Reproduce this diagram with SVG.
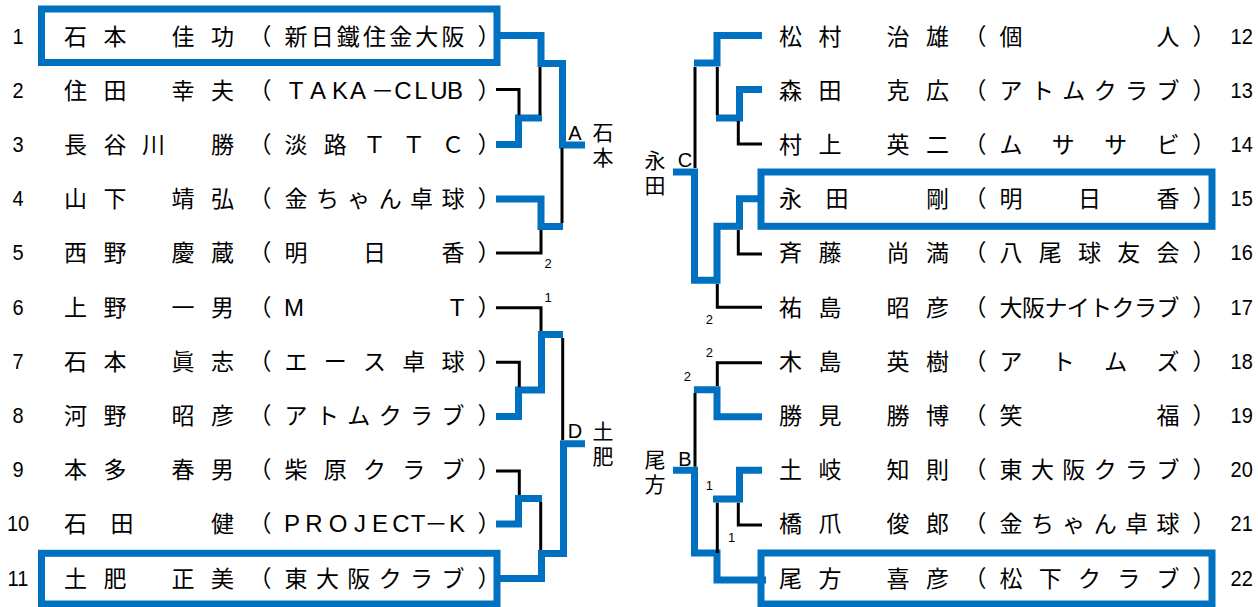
<svg xmlns="http://www.w3.org/2000/svg" width="1258" height="607" viewBox="0 0 1258 607">
<style>
.t{font-family:"Noto Sans CJK JP","Noto Sans CJK SC",sans-serif;font-size:23px;text-anchor:middle;fill:#000}
.lat{font-family:"Liberation Sans",Arial,sans-serif;font-size:24px;text-anchor:middle;fill:#000}
.dash{font-family:"Noto Sans CJK JP",sans-serif;font-size:23px}
.n{font-family:"Liberation Sans",Arial,sans-serif;font-size:20px;text-anchor:middle;fill:#000}
.sm{font-family:"Liberation Sans",Arial,sans-serif;font-size:13px;text-anchor:middle;fill:#000}
.lb{font-family:"Liberation Sans",Arial,sans-serif;font-size:20px;text-anchor:middle;fill:#000}
.lk{font-family:"Noto Sans CJK JP","Noto Sans CJK SC",sans-serif;font-size:21px;text-anchor:start;fill:#000;writing-mode:vertical-rl;letter-spacing:4px}
.box{fill:none;stroke:#0070C0;stroke-width:7}
.bl{fill:none;stroke:#0070C0;stroke-width:7;stroke-linejoin:miter}
.bk{fill:none;stroke:#000;stroke-width:3;stroke-linejoin:miter}
</style>
<rect width="1258" height="607" fill="#fff"/>

<g id="connectors">
<path class="bl" d="M497,35.5 H541 V63.5 H562.5 V145 H585"/>
<path class="bl" d="M496,144.5 H518.5 V118 H542"/>
<path class="bl" d="M496,199 H541 V226.5 H563"/>
<path class="bk" d="M496,89.5 H519 V115"/>
<path class="bk" d="M540,67 V115"/>
<path class="bk" d="M562,148 V223"/>
<path class="bk" d="M496,253 H541 V230"/>
<path class="bl" d="M496,416.5 H518.5 V390 H541.5 V334.5 H563"/>
<path class="bl" d="M496,524 H518.5 V498.5 H542"/>
<path class="bl" d="M497,578.5 H541.5 V553.5 H563.5 V443.7 H585"/>
<path class="bk" d="M496,307.7 H541 V331"/>
<path class="bk" d="M496,362.3 H519.3 V387"/>
<path class="bk" d="M562.7,338 V440"/>
<path class="bk" d="M496,471 H519.3 V495"/>
<path class="bk" d="M540.7,502 V550"/>
<path class="bl" d="M762,35.5 H717 V63 H694"/>
<path class="bl" d="M762,89.5 H739.5 V118 H716"/>
<path class="bl" d="M762,198.7 H739.5 V226.3 H717 V280.3 H694.5 V172 H673"/>
<path class="bk" d="M695,67 V168"/>
<path class="bk" d="M717.3,67 V115"/>
<path class="bk" d="M762,144 H738.3 V121"/>
<path class="bk" d="M762,254 H738.3 V230"/>
<path class="bk" d="M762,307.3 H717.3 V284"/>
<path class="bl" d="M762,416.7 H717 V389.7 H694"/>
<path class="bl" d="M762,470.3 H739.5 V499 H713"/>
<path class="bl" d="M766,580 H717 V553 H694.5 V470.3 H673"/>
<path class="bk" d="M762,362.7 H717.3 V386"/>
<path class="bk" d="M695,393 V466.7"/>
<path class="bk" d="M762,525 H738.3 V502.7"/>
<path class="bk" d="M717.3,502.7 V553"/>
</g>

<g id="labels">
<text class="sm" x="548" y="268">2</text>
<text class="sm" x="548" y="301.5">1</text>
<text class="sm" x="709.3" y="324">2</text>
<text class="sm" x="709.3" y="356.5">2</text>
<text class="sm" x="687.3" y="381">2</text>
<text class="sm" x="709.3" y="490">1</text>
<text class="sm" x="731.7" y="541.5">1</text>
<g id="blockA"><text class="lb" x="575" y="140">A</text><text class="lk" x="603" y="121.5">石本</text></g>
<g id="blockD"><text class="lb" x="575" y="438.3">D</text><text class="lk" x="603" y="421">土肥</text></g>
<g id="blockC"><text class="lb" x="685" y="166.7">C</text><text class="lk" x="655" y="149.5">永田</text></g>
<g id="blockB"><text class="lb" x="685" y="466">B</text><text class="lk" x="655" y="449">尾方</text></g>
</g>

<g id="p1"><rect class="box" x="41.5" y="9" width="455.5" height="53.5"/>
<text class="n" transform="translate(18 43.5) scale(1 1.12)">1</text>
<text class="t" x="75.5 115 183 222.5" y="44.5">石本佳功</text>
<text class="t" x="260 296 322.2 348.3 374.5 400.7 426.8 453 489" y="44.5">（新日鐵住金大阪）</text></g>

<g id="p2"><text class="n" transform="translate(18 97.7) scale(1 1.12)">2</text>
<text class="t" x="75.5 115 183 222.5" y="98.7">住田幸夫</text>
<text class="t" x="260" y="98.7">（</text><text class="lat" x="296 318 340 358 382.5 403 421 439 455" y="98.7">TAKA<tspan class="dash">－</tspan>CLUB</text><text class="t" x="489" y="98.7">）</text></g>

<g id="p3"><text class="n" transform="translate(18 151.9) scale(1 1.12)">3</text>
<text class="t" x="75.5 115 153.5 222.5" y="152.9">長谷川勝</text>
<text class="t" x="260 296 335.25 374.5 413.75 453 489" y="152.9">（淡路ＴＴＣ）</text></g>

<g id="p4"><text class="n" transform="translate(18 206.1) scale(1 1.12)">4</text>
<text class="t" x="75.5 115 183 222.5" y="207.1">山下靖弘</text>
<text class="t" x="260 296 327.4 358.8 390.2 421.6 453 489" y="207.1">（金ちゃん卓球）</text></g>

<g id="p5"><text class="n" transform="translate(18 260.3) scale(1 1.12)">5</text>
<text class="t" x="75.5 115 183 222.5" y="261.3">西野慶蔵</text>
<text class="t" x="260 296 374.5 453 489" y="261.3">（明日香）</text></g>

<g id="p6"><text class="n" transform="translate(18 314.5) scale(1 1.12)">6</text>
<text class="t" x="75.5 115 183 222.5" y="315.5">上野一男</text>
<text class="t" x="260" y="315.5">（</text><text class="lat" x="294 457" y="315.5">MT</text><text class="t" x="489" y="315.5">）</text></g>

<g id="p7"><text class="n" transform="translate(18 368.7) scale(1 1.12)">7</text>
<text class="t" x="75.5 115 183 222.5" y="369.7">石本眞志</text>
<text class="t" x="260 296 335.25 374.5 413.75 453 489" y="369.7">（エース卓球）</text></g>

<g id="p8"><text class="n" transform="translate(18 422.9) scale(1 1.12)">8</text>
<text class="t" x="75.5 115 183 222.5" y="423.9">河野昭彦</text>
<text class="t" x="260 296 327.4 358.8 390.2 421.6 453 489" y="423.9">（アトムクラブ）</text></g>

<g id="p9"><text class="n" transform="translate(18 477.1) scale(1 1.12)">9</text>
<text class="t" x="75.5 115 183 222.5" y="478.1">本多春男</text>
<text class="t" x="260 296 335.25 374.5 413.75 453 489" y="478.1">（柴原クラブ）</text></g>

<g id="p10"><text class="n" transform="translate(18 531.3) scale(1 1.12)">10</text>
<text class="t" x="75.5 122 222.5" y="532.3">石田健</text>
<text class="t" x="260" y="532.3">（</text><text class="lat" x="292 314 338 360 380 401 418 436 457" y="532.3">PROJECT<tspan class="dash">－</tspan>K</text><text class="t" x="489" y="532.3">）</text></g>

<g id="p11"><rect class="box" x="41.5" y="553.3" width="455.5" height="50.7"/>
<text class="n" transform="translate(18 585.5) scale(1 1.12)">11</text>
<text class="t" x="75.5 115 183 222.5" y="586.5">土肥正美</text>
<text class="t" x="260 296 327.4 358.8 390.2 421.6 453 489" y="586.5">（東大阪クラブ）</text></g>

<g id="p12"><text class="n" transform="translate(1241.7 43.5) scale(1 1.12)">12</text>
<text class="t" x="790.5 830 898 937.5" y="44.5">松村治雄</text>
<text class="t" x="975 1011 1168 1204" y="44.5">（個人）</text></g>

<g id="p13"><text class="n" transform="translate(1241.7 97.7) scale(1 1.12)">13</text>
<text class="t" x="790.5 830 898 937.5" y="98.7">森田克広</text>
<text class="t" x="975 1011 1042.4 1073.8 1105.2 1136.6 1168 1204" y="98.7">（アトムクラブ）</text></g>

<g id="p14"><text class="n" transform="translate(1241.7 151.9) scale(1 1.12)">14</text>
<text class="t" x="790.5 830 898 937.5" y="152.9">村上英二</text>
<text class="t" x="975 1011 1063.3 1115.7 1168 1204" y="152.9">（ムササビ）</text></g>

<g id="p15"><rect class="box" x="761" y="172" width="451" height="54.3"/>
<text class="n" transform="translate(1241.7 206.1) scale(1 1.12)">15</text>
<text class="t" x="790.5 837 937.5" y="207.1">永田剛</text>
<text class="t" x="975 1011 1089.5 1168 1204" y="207.1">（明日香）</text></g>

<g id="p16"><text class="n" transform="translate(1241.7 260.3) scale(1 1.12)">16</text>
<text class="t" x="790.5 830 898 937.5" y="261.3">斉藤尚満</text>
<text class="t" x="975 1011 1050.25 1089.5 1128.75 1168 1204" y="261.3">（八尾球友会）</text></g>

<g id="p17"><text class="n" transform="translate(1241.7 314.5) scale(1 1.12)">17</text>
<text class="t" x="790.5 830 898 937.5" y="315.5">祐島昭彦</text>
<text class="t" x="975 1011 1033.4 1055.9 1078.3 1100.7 1123.1 1145.6 1168 1204" y="315.5">（大阪ナイトクラブ）</text></g>

<g id="p18"><text class="n" transform="translate(1241.7 368.7) scale(1 1.12)">18</text>
<text class="t" x="790.5 830 898 937.5" y="369.7">木島英樹</text>
<text class="t" x="975 1011 1063.3 1115.7 1168 1204" y="369.7">（アトムズ）</text></g>

<g id="p19"><text class="n" transform="translate(1241.7 422.9) scale(1 1.12)">19</text>
<text class="t" x="790.5 830 898 937.5" y="423.9">勝見勝博</text>
<text class="t" x="975 1011 1168 1204" y="423.9">（笑福）</text></g>

<g id="p20"><text class="n" transform="translate(1241.7 477.1) scale(1 1.12)">20</text>
<text class="t" x="790.5 830 898 937.5" y="478.1">土岐知則</text>
<text class="t" x="975 1011 1042.4 1073.8 1105.2 1136.6 1168 1204" y="478.1">（東大阪クラブ）</text></g>

<g id="p21"><text class="n" transform="translate(1241.7 531.3) scale(1 1.12)">21</text>
<text class="t" x="790.5 830 898 937.5" y="532.3">橋爪俊郎</text>
<text class="t" x="975 1011 1042.4 1073.8 1105.2 1136.6 1168 1204" y="532.3">（金ちゃん卓球）</text></g>

<g id="p22"><rect class="box" x="761" y="553" width="451" height="51"/>
<text class="n" transform="translate(1241.7 585.5) scale(1 1.12)">22</text>
<text class="t" x="790.5 830 898 937.5" y="586.5">尾方喜彦</text>
<text class="t" x="975 1011 1050.25 1089.5 1128.75 1168 1204" y="586.5">（松下クラブ）</text></g>
</svg>
